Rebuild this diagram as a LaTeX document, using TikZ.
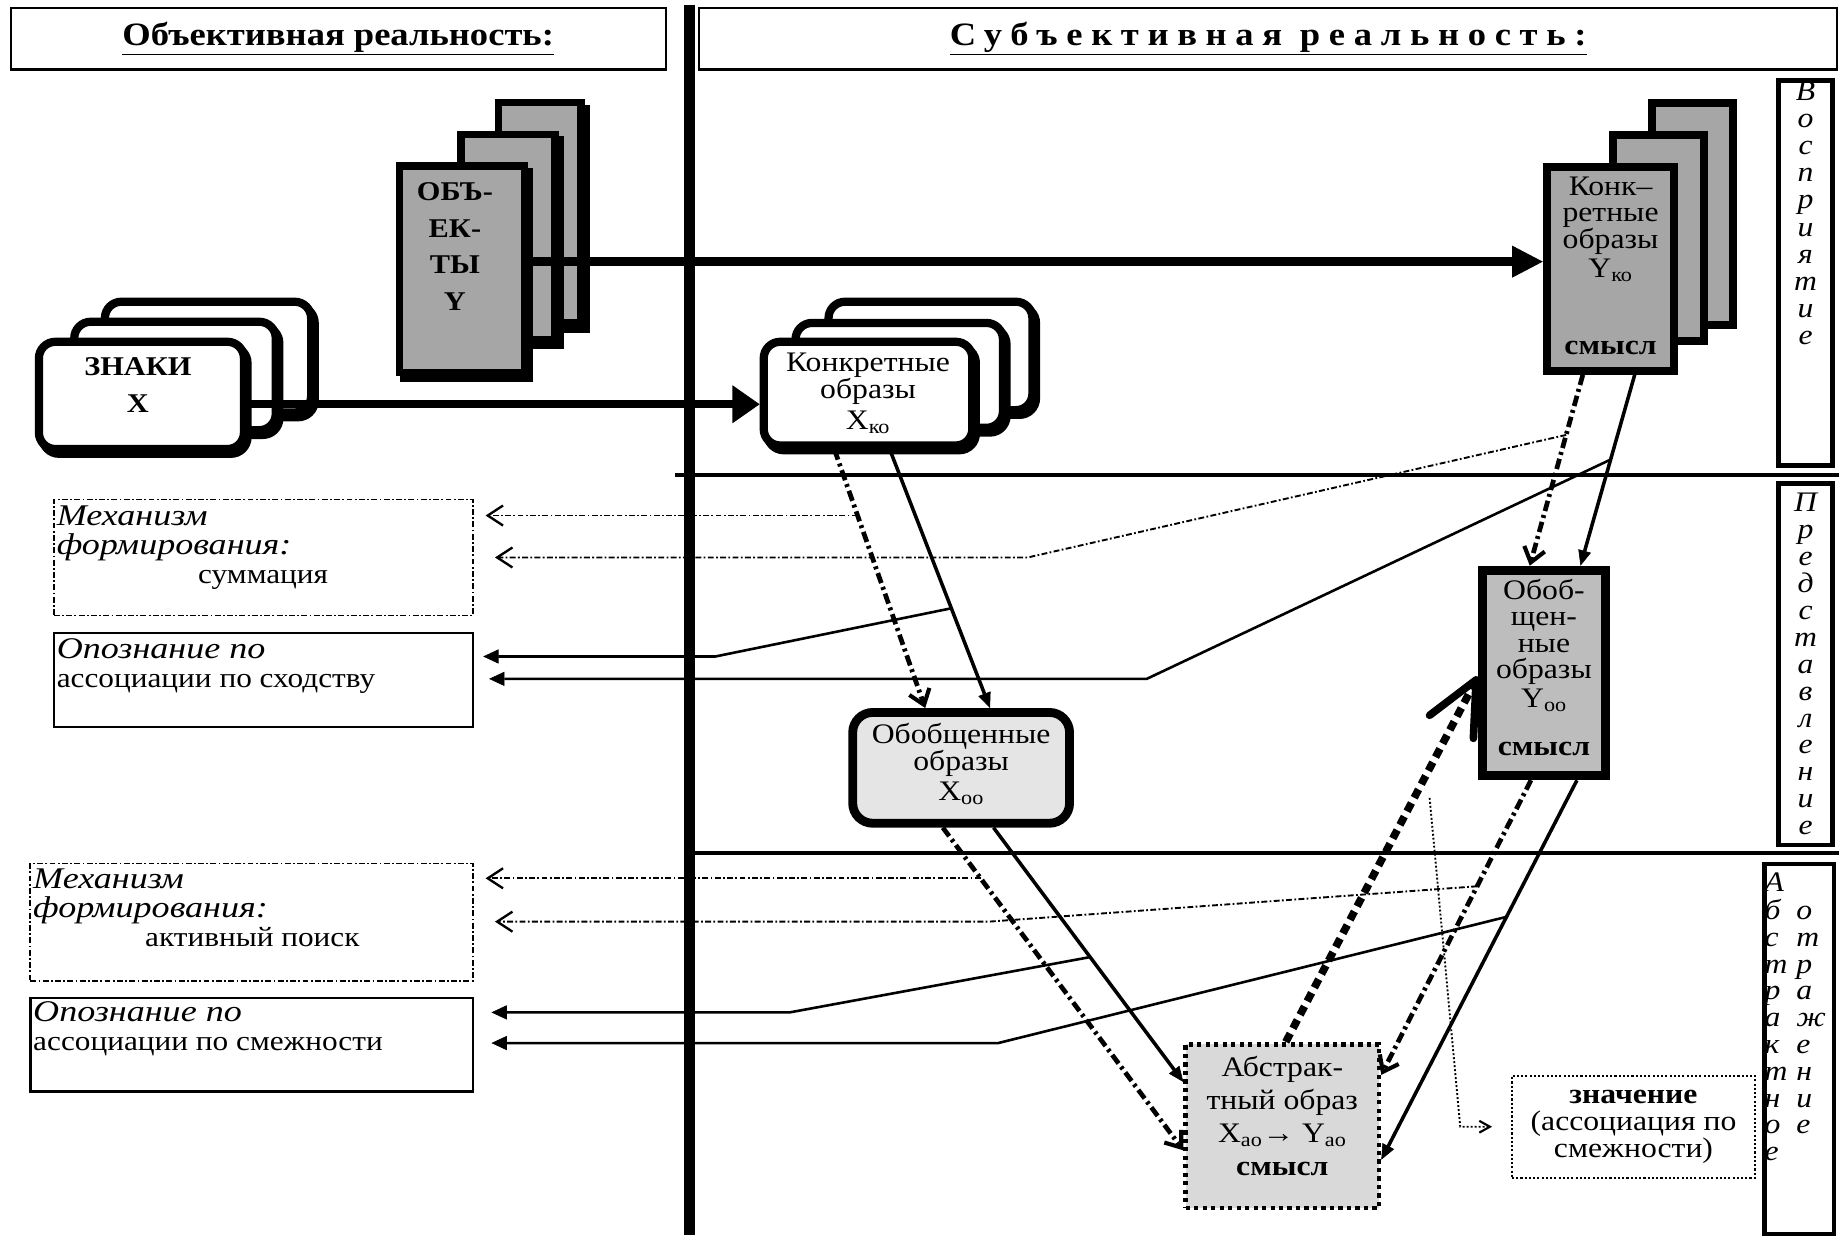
\documentclass[tikz,border=0pt]{standalone}
\usepackage{fontspec}
\setmainfont{Liberation Serif}[FakeStretch=1.12]
\newfontfamily\wideit{Liberation Serif}[FakeStretch=1.2]
\usetikzlibrary{arrows.meta,calc}
\definecolor{gDark}{gray}{0.65}
\definecolor{gYoo}{gray}{0.74}
\definecolor{gXoo}{gray}{0.9}
\definecolor{gAbs}{gray}{0.85}
\newcommand{\fbx}{\fontsize{24}{23}\selectfont}
\newcommand{\fbt}{\fontsize{24}{22.5}\selectfont}
\newcommand{\fab}{\fontsize{24}{28}\selectfont}
\newcommand{\fzn}{\fontsize{24}{23}\selectfont}
\newcommand{\fli}{\fontsize{25.5}{25}\selectfont\wideit\itshape}
\newcommand{\flr}{\fontsize{23.7}{25}\selectfont\rmfamily\upshape}
\newcommand{\flt}{\fontsize{24}{23}\selectfont\itshape}
\newcommand{\flu}{\fontsize{24}{22.75}\selectfont\itshape}
\newcommand{\fhd}{\fontsize{27.7}{30}\selectfont\bfseries}
\newcommand{\fbold}{\fontsize{23}{31}\selectfont\bfseries}
\begin{document}
\begin{tikzpicture}[x=1pt,y=-1pt,
  every node/.style={inner sep=0pt, align=center},
  hdrbox/.style={draw, line width=1.8pt},
  lblbox/.style={draw, line width=4pt},
  mechbox/.style={draw, line width=1.4pt, dash pattern=on 5pt off 2pt on 1.5pt off 2pt},
  opbox/.style={draw, line width=1.8pt},
  lefttext/.style={align=left, font=\fli},
  whitebox/.style={draw, line width=7pt, rounded corners=14pt, fill=white,
     preaction={draw, line width=7pt, transform canvas={shift={(3pt,-4pt)}}}},
  objbox/.style={draw, line width=6.5pt, fill=gDark,
     preaction={draw, line width=6.5pt, transform canvas={shift={(4pt,-5pt)}}}},
  ykobox/.style={draw, line width=7pt, fill=gDark},
  xoobox/.style={draw, line width=7.5pt, rounded corners=17pt, fill=gXoo, font=\fbx},
  yoobox/.style={draw, line width=8pt, fill=gYoo, font=\fbt},
  absbox/.style={draw, line width=4pt, dash pattern=on 3.6pt off 3.6pt, fill=gAbs, font=\fab},
  znbox/.style={draw, line width=1.6pt, dash pattern=on 1.8pt off 1.8pt, font=\fzn},
  bigarrow/.style={line width=8pt, -{Triangle[length=26pt,width=27pt,line width=1pt]}},
  midarrow/.style={line width=7pt, -{Triangle[length=23pt,width=32pt,line width=1pt]}},
  dd/.style={line width=4pt, dash pattern=on 9pt off 3.5pt on 2.5pt off 3.5pt,
     -{Straight Barb[length=12pt,width=18pt,line width=3.5pt]}},
  sol/.style={line width=3pt, -{Triangle[length=13pt,width=11pt,line width=0.5pt]}},
  thindd/.style={line width=1.6pt, dash pattern=on 5pt off 2pt on 1.5pt off 2pt,
     -{Straight Barb[length=13pt,width=17pt,line width=2pt]}},
  thinsol/.style={line width=2.2pt, -{Triangle[length=13pt,width=12pt,line width=0.5pt]}},
  heavydash/.style={line width=6.5pt, dash pattern=on 8pt off 5pt,
     -{Straight Barb[length=45pt,width=42pt,line width=6.5pt,round]}},
  dots/.style={line width=1.6pt, dash pattern=on 1.6pt off 1.8pt,
     -{Straight Barb[length=9pt,width=10pt,line width=1.8pt]}}
]
\useasboundingbox (0,0) rectangle (1568,1052);
\fill[white] (0,0) rectangle (1568,1052);

% separators
\draw[line width=10pt] (585,4) -- (585,1048);
\draw[line width=3.5pt] (573,403) -- (1560,403);
\draw[line width=3.5pt] (590,724) -- (1560,724);

% headers
\node[hdrbox, minimum width=556pt, minimum height=52pt, font=\fhd] (hl) at (287,33) {\underline{Объективная реальность:}};
\node[hdrbox, minimum width=966pt, minimum height=52pt, font=\fhd] (hr) at (1076,33) {\addfontfeature{LetterSpace=26.5}\underline{Субъективная реальность:}};

% right label boxes
\node[lblbox, minimum width=46pt, minimum height=327pt] (vos) at (1532,231.5) {};
\node[font=\flt, anchor=north] (vosT) at ([yshift=-3pt]vos.north) {\begin{tabular}{@{}c@{}}В\\о\\с\\п\\р\\и\\я\\т\\и\\е\end{tabular}};
\node[lblbox, minimum width=46pt, minimum height=307pt] (pred) at (1532,563.5) {};
\node[font=\flu, anchor=north] (predT) at ([yshift=-10pt]pred.north) {\begin{tabular}{@{}c@{}}П\\р\\е\\д\\с\\т\\а\\в\\л\\е\\н\\и\\е\end{tabular}};
\node[lblbox, minimum width=59pt, minimum height=314pt] (abot) at (1526.5,890) {};
\node[font=\flu, anchor=north west] (abotT) at ([xshift=2pt,yshift=-9pt]abot.north west) {\begin{tabular}{@{}p{27pt}@{}l@{}}А&\\б&о\\с&т\\т&р\\р&а\\а&ж\\к&е\\т&н\\н&и\\о&е\\е&\end{tabular}};

% left boxes
\node[mechbox, minimum width=355.6pt, minimum height=98.6pt] (m1) at (223.5,473) {};
\node[lefttext, anchor=north west] (m1T) at ([xshift=3pt,yshift=-5.6pt]m1.north west) {Механизм\\формирования:\\{\flr\hspace*{120pt}суммация}};
\node[opbox, minimum width=355.2pt, minimum height=80.2pt] (op1) at (223.5,577) {};
\node[lefttext, anchor=north west] (op1T) at ([xshift=3pt,yshift=-5.6pt]op1.north west) {Опознание по\\{\flr ассоциации по сходству}};
\node[mechbox, minimum width=375.6pt, minimum height=99.6pt] (m2) at (213.5,782.5) {};
\node[lefttext, anchor=north west] (m2T) at ([xshift=3pt,yshift=-4.6pt]m2.north west) {Механизм\\формирования:\\{\flr\hspace*{95pt}активный поиск}};
\node[opbox, minimum width=375.2pt, minimum height=79.2pt] (op2) at (213.5,886.5) {};
\node[lefttext, anchor=north west] (op2T) at ([xshift=3pt,yshift=-3.6pt]op2.north west) {Опознание по\\{\flr ассоциации по смежности}};

% ZNAKI stack
\node[whitebox, minimum width=175pt, minimum height=94pt] (zn3) at (176.5,303) {};
\node[whitebox, minimum width=171pt, minimum height=92pt] (zn2) at (148.5,319) {};
\node[whitebox, minimum width=174pt, minimum height=91pt] (zn1) at (120,335.5) {};
\node[font=\fbold] (znT) at (117,326.5) {ЗНАКИ\\X};

% OBJECTS stack
\node[objbox, minimum width=70pt, minimum height=187pt] (ob3) at (458,180.5) {};
\node[objbox, minimum width=80pt, minimum height=174pt] (ob2) at (431,201) {};
\node[objbox, minimum width=106pt, minimum height=175pt] (ob1) at (392,228.5) {};
\node[font=\fbold] (obT) at (386,209) {ОБЪ-\\ЕК-\\ТЫ\\Y};

% X_ko stack
\node[whitebox, minimum width=173pt, minimum height=92pt] (xko3) at (789.5,302) {};
\node[whitebox, minimum width=176pt, minimum height=89pt] (xko2) at (763,318.5) {};
\node[whitebox, minimum width=177pt, minimum height=88pt, font=\fbx] (xko1) at (736.5,334) {Конкретные\\образы\\[3pt]X\textsubscript{ко}\\[-19pt]\mbox{}};

% Y_ko stack
\node[ykobox, minimum width=69pt, minimum height=188pt] (yko3) at (1436,181.5) {};
\node[ykobox, minimum width=77pt, minimum height=175pt] (yko2) at (1407,202) {};
\node[ykobox, minimum width=108pt, minimum height=173pt, font=\fbt] (yko1) at (1366.5,228) {Конк–\\ретные\\образы\\[2pt]Y\textsubscript{ко}\\[43pt]\textbf{смысл}\\[-17.5pt]\mbox{}};

% generalized and abstract images
\node[xoobox, minimum width=184pt, minimum height=94pt] (xoo) at (815.5,651.5) {Обобщенные\\образы\\[2pt]X\textsubscript{оо}\\[-13pt]\mbox{}};
\node[yoobox, minimum width=104pt, minimum height=174pt] (yoo) at (1310,571) {Обоб-\\щен-\\ные\\образы\\[2pt]Y\textsubscript{оо}\\[18pt]\textbf{смысл}\\[-12.5pt]\mbox{}};
\node[absbox, minimum width=164pt, minimum height=139pt] (abs) at (1088,955.5) {Абстрак-\\тный образ\\X\textsubscript{ао}→ Y\textsubscript{ао}\\\textbf{смысл}\\[-10pt]\mbox{}};
\node[znbox, minimum width=206.4pt, minimum height=86.4pt] (znach) at (1386,956) {\textbf{значение}\\(ассоциация по\\смежности)};

% main horizontal arrows
\draw[bigarrow] ([yshift=6.5pt]ob1.east) -- ([yshift=6pt]yko1.west);
\draw[midarrow] ([yshift=-7.5pt]zn1.east) -- ([yshift=-9pt]xko1.west);

% diagonal connectors
\draw[dd] ([xshift=-28.5pt]xko1.south) -- coordinate[pos=0.255] (c1) ([xshift=-30.5pt]xoo.north);
\draw[sol] ([xshift=18.5pt]xko1.south) -- coordinate[pos=0.614] (d1) ([xshift=24.5pt]xoo.north);
\draw[dd] ([xshift=-23.5pt]yko1.south) -- coordinate[pos=0.315] (e1) ([xshift=-12pt]yoo.north);
\draw[sol] ([xshift=20.5pt]yko1.south) -- coordinate[pos=0.444] (f1) ([xshift=31pt]yoo.north);
\draw[dd] ([xshift=-15.5pt]xoo.south) -- coordinate[pos=0.157] (g1) ([yshift=-20.5pt]abs.west);
\draw[sol] ([xshift=27.5pt]xoo.south) -- coordinate[pos=0.509] (h1) ([yshift=37.5pt]abs.west);
\draw[dd] ([xshift=-11pt]yoo.south) -- coordinate[pos=0.36] (j1) ([yshift=43.5pt]abs.east);
\draw[sol] ([xshift=28pt]yoo.south) -- coordinate[pos=0.36] (k1) ([yshift=-28.5pt]abs.east);
\draw[heavydash] ([xshift=3pt]abs.north) -- ([yshift=-3pt]yoo.west);

% dotted meaning arrow
\coordinate (dstart) at (1213,677);
\draw[dots] (dstart) -- ([xshift=-43pt]znach.west) -- ([xshift=-16pt]znach.west);

% arrow ends at left boxes
\coordinate (m1a) at ([xshift=10pt]m1.east);
\coordinate (m1b) at ([xshift=18pt]m1.east);
\coordinate (op1a) at ([xshift=8pt]op1.east);
\coordinate (op1b) at ([xshift=13pt]op1.east);
\coordinate (m2a) at ([xshift=10pt]m2.east);
\coordinate (m2b) at ([xshift=18pt]m2.east);
\coordinate (op2a) at ([xshift=15pt]op2.east);
\coordinate (op2b) at ([xshift=15pt]op2.east);
\coordinate (k2) at (872,473);
\coordinate (k3) at (607,557);
\coordinate (k4) at (973,576);
\coordinate (k6) at (839,782);
\coordinate (k7) at (670,859);
\coordinate (k8) at (847,885);

\draw[thindd] (c1) -- (c1 -| m1a);
\draw[thindd] (e1) -- (k2) -- (k2 -| m1b);
\draw[thinsol] (d1) -- (k3) -- (k3 -| op1a);
\draw[thinsol] (f1) -- (k4) -- (k4 -| op1b);
\draw[thindd] (g1) -- (g1 -| m2a);
\draw[thindd] (j1) -- (k6) -- (k6 -| m2b);
\draw[thinsol] (h1) -- (k7) -- (k7 -| op2a);
\draw[thinsol] (k1) -- (k8) -- (k8 -| op2b);
\end{tikzpicture}
\end{document}
